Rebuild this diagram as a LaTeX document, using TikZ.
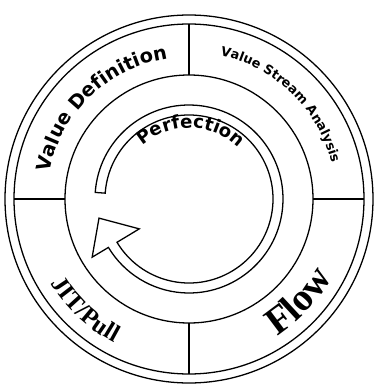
\documentclass[tikz,border=0pt]{standalone}
\usepackage{fontspec}
\setmainfont{Liberation Serif}
\newfontfamily\heavysans{DejaVu Sans}
\usetikzlibrary{decorations.text}

\begin{document}
\begin{tikzpicture}[
    x=0.03cm, y=0.03cm,
    ring/.style={line width=1.1pt},
    arctext/.style={decorate, decoration={text along path, text align=center}}
]
\useasboundingbox (-189,-185) rectangle (186,199);
\coordinate (c) at (0,0);

% Outer rim and ring
\draw[ring] (c) circle (184);
\draw[ring] (c) circle (175);
\draw[ring] (c) circle (124);

% Quadrant dividers
\foreach \a in {0,90,180,270}
  \draw[ring] (\a:124) -- (\a:175);

% Cycle arrow
\draw[ring] (176:94) arc[start angle=176, end angle=-149, radius=94]
  -- (211:113) -- (192:92) -- (211:58) -- (211:84)
  arc[start angle=-149, end angle=176, radius=84] -- cycle;

% Ring labels
\path[arctext, decoration={text={|\heavysans\bfseries\fontsize{16.5}{16.5}\selectfont|Value Definition}}]
  (179:142) arc[start angle=179, end angle=89, radius=142];
\path[arctext, decoration={text={|\heavysans\bfseries\fontsize{11}{11}\selectfont|Value Stream Analysis}}]
  (91:147) arc[start angle=91, end angle=1, radius=147];
\path[arctext, decoration={text={|\bfseries\fontsize{21}{21}\selectfont|JIT/Pull}}]
  (182:162) arc[start angle=182, end angle=272, radius=162];
\path[arctext, decoration={text={|\bfseries\fontsize{33}{33}\selectfont|Flow}}]
  (272:163) arc[start angle=272, end angle=362, radius=163];

% Inner label
\path[arctext, decoration={text={|\heavysans\bfseries\fontsize{15.5}{15.5}\selectfont|Perfection}}]
  (178.5:71) arc[start angle=178.5, end angle=-1.5, radius=71];
\end{tikzpicture}
\end{document}
